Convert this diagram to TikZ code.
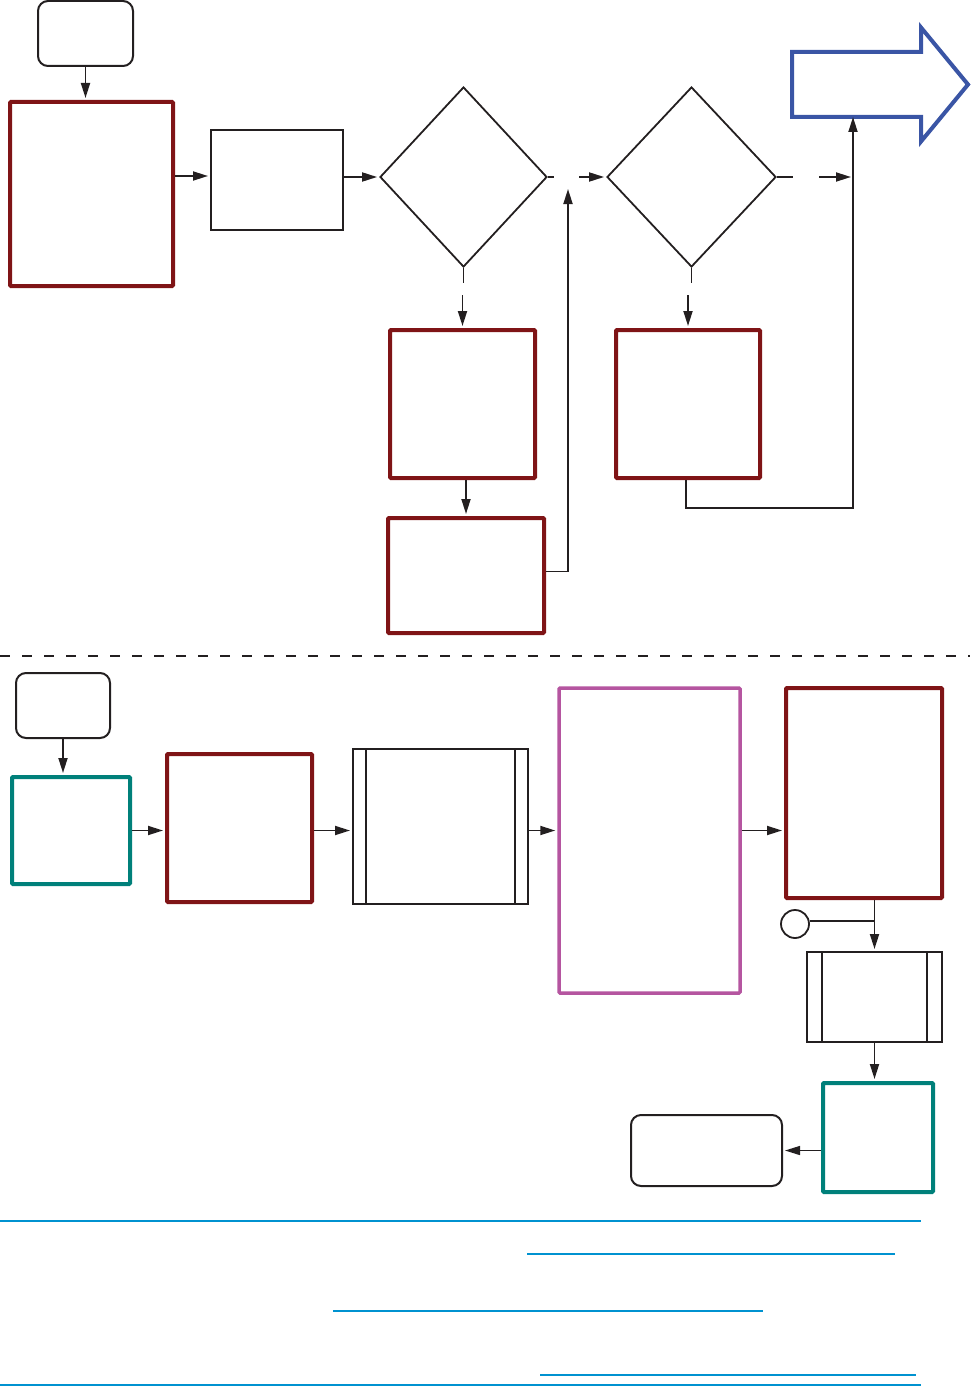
\documentclass[tikz,border=0pt]{standalone}
\usetikzlibrary{shapes.geometric,shapes.arrows,arrows.meta,calc}
\definecolor{boxred}{RGB}{127,20,22}
\definecolor{boxteal}{RGB}{0,128,122}
\definecolor{boxpink}{RGB}{181,85,160}
\definecolor{exitblue}{RGB}{58,85,165}
\definecolor{linkblue}{RGB}{0,146,208}
\definecolor{ink}{RGB}{35,31,32}
\begin{document}
\begin{tikzpicture}[x=1pt,y=-1pt,
  every node/.style={inner sep=0pt},
  wh/.style 2 args={minimum width=#1pt,minimum height=#2pt},
  redbox/.style={draw=boxred,line width=4pt,rounded corners=1pt},
  tealbox/.style={draw=boxteal,line width=4pt,rounded corners=1pt},
  pinkbox/.style={draw=boxpink,line width=3.5pt,rounded corners=1pt},
  plainbox/.style={draw=ink,line width=2pt},
  startend/.style={draw=ink,line width=2pt,rounded corners=10pt},
  decision/.style={diamond,draw=ink,line width=1.8pt},
  predef/.style={draw=ink,line width=2pt,
    path picture={\draw[line width=2pt]
      ([xshift=#1pt]path picture bounding box.north west) --
      ([xshift=#1pt]path picture bounding box.south west)
      ([xshift=-#1pt]path picture bounding box.north east) --
      ([xshift=-#1pt]path picture bounding box.south east);}},
  predef/.default=13,
  outarrow/.style={single arrow,draw=exitblue,line width=4pt,
    inner xsep=0pt,inner ysep=30.5pt,
    single arrow head extend=24.5pt,single arrow tip angle=101,
    single arrow head indent=0pt},
  flow/.style={draw=ink,line width=1.8pt,-{Triangle[length=15pt,width=9pt]},shorten >=2pt},
  wire/.style={draw=ink,line width=1.8pt},
  rule/.style={draw=linkblue,line width=1.4pt}]
  \useasboundingbox (0,0) rectangle (970,1386);

  % upper chart
  \node[startend,wh={95}{65}] (start1) at (85.5,33.5) {};
  \node[redbox,wh={163}{184}] (red1) at (91.5,194) {};
  \node[plainbox,wh={132}{100}] (box1) at (277,180) {};
  \node[decision,wh={167}{180}] (dia1) at (463.5,177) {};
  \node[decision,wh={169}{180}] (dia2) at (691.5,177) {};
  \node[outarrow,wh={110}{176},anchor=tail] (exit) at (790,84.5) {};
  \node[redbox,wh={145}{148}] (red2) at (462.5,404) {};
  \node[redbox,wh={156}{115}] (red3) at (466,575.5) {};
  \node[redbox,wh={144}{148}] (red4) at (688,404) {};
  \coordinate (riseTop) at (568,187);
  \coordinate (loopR) at (853,508);
  \coordinate (exitFoot) at ($(exit.tail)+(0,30.5)$);

  \draw[flow] (start1.south) -- (start1.south |- red1.north);
  \draw[flow] ($(red1.east |- box1.west)+(0,-4)$) -- ($(box1.west)+(0,-4)$);
  \draw[flow] (box1.east |- dia1.west) -- (dia1.west);
  \draw[wire] (dia1.east) -- ++(6,0);
  \draw[flow] ($(dia2.west)+(-27,0)$) -- (dia2.west);
  \draw[wire] (dia2.east) -- ++(16,0);
  \draw[flow] ($(loopR |- dia2.east)+(-34,0)$) -- (loopR |- dia2.east);
  \draw[wire] (dia1.south) -- ++(0,15);
  \draw[flow] ($(red2.north)+(0,-33)$) -- (red2.north);
  \draw[wire] (dia2.south) -- ++(0,15);
  \draw[flow] ($(red4.north)+(0,-33)$) -- (red4.north);
  \draw[flow] (red2.south -| red3.north) -- (red3.north);
  \draw[flow] ($(red3.east)+(0,-4)$) -| (riseTop);
  \draw[flow] ([xshift=-2pt]red4.south) |- (loopR) -- (loopR |- exitFoot);

  % separator
  \draw[ink,line width=1.3pt,dash pattern=on 10pt off 12pt] (0,656) -- (970,656);

  % lower chart
  \node[startend,wh={94}{65}] (start2) at (63,705.5) {};
  \node[tealbox,wh={118}{107}] (teal1) at (71,830.5) {};
  \node[redbox,wh={145}{148}] (red5) at (239.5,828) {};
  \node[predef,wh={175}{155}] (pre1) at (440.5,826.5) {};
  \node[pinkbox,wh={181}{305}] (pink) at (649.5,840.5) {};
  \node[redbox,wh={156}{210}] (red6) at (864,793) {};
  \node[circle,draw=ink,line width=1.8pt,minimum size=28pt] (circ) at (795,924) {};
  \node[predef=15,wh={135}{90}] (pre2) at (874.5,997) {};
  \node[tealbox,wh={110}{109}] (teal2) at (878,1137.5) {};
  \node[startend,wh={151}{71}] (end) at (706.5,1150.5) {};

  \draw[flow] (start2.south) -- (start2.south |- teal1.north);
  \draw[flow] (teal1.east) -- (teal1.east -| red5.west);
  \draw[flow] (red5.east |- teal1.east) -- (pre1.west |- teal1.east);
  \draw[flow] (pre1.east |- teal1.east) -- (pink.west |- teal1.east);
  \draw[flow] (pink.east |- teal1.east) -- (red6.west |- teal1.east);
  \draw[flow] (pre2.north |- red6.south) -- (pre2.north);
  \draw[wire] ($(circ.east)+(0,-3)$) -- ($(circ.east -| pre2.north)+(0,-3)$);
  \draw[flow] (pre2.south) -- (pre2.south |- teal2.north);
  \draw[flow,line width=1.4pt] (teal2.west |- end.east) -- (end.east);

  % footer rules
  \draw[rule] (0,1221) -- (921,1221);
  \draw[rule,line width=1.6pt] (527,1254) -- (895,1254);
  \draw[rule,line width=2.2pt] (333,1311) -- (763,1311);
  \draw[rule,line width=1.6pt] (540,1375) -- (916,1375);
  \draw[rule] (0,1385) -- (921,1385);
\end{tikzpicture}
\end{document}
